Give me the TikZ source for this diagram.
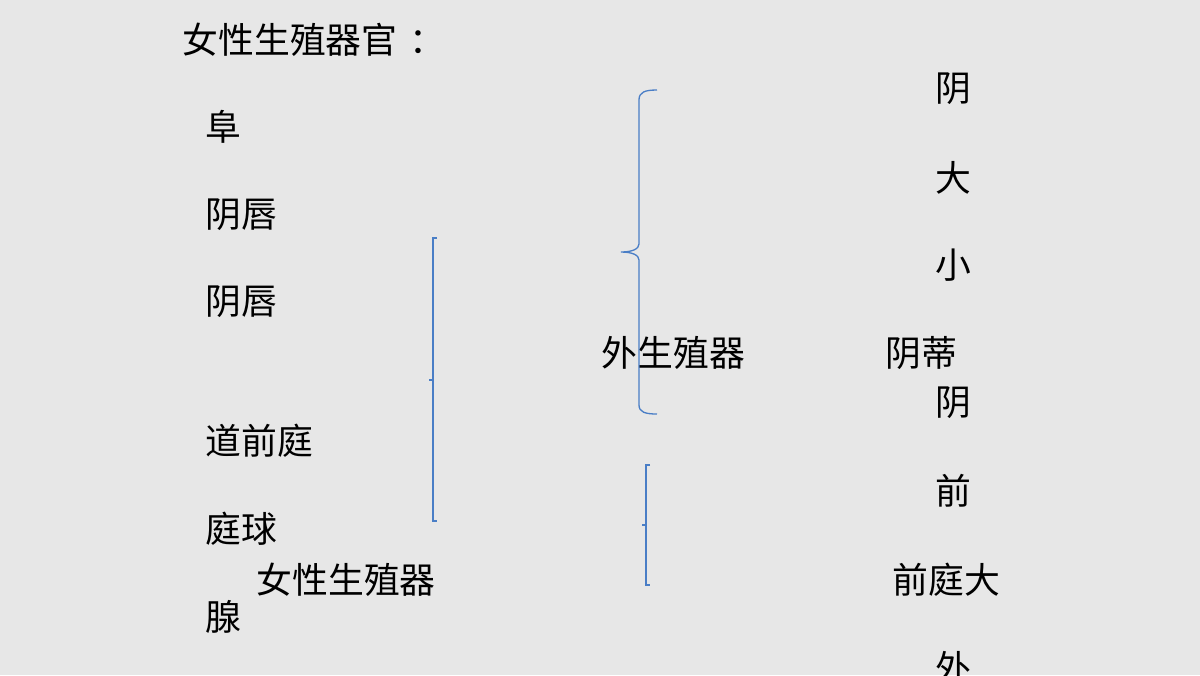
\documentclass[tikz,border=0pt]{standalone}
\usepackage{fontspec}
\setmainfont{Noto Sans CJK SC}
\definecolor{slidebg}{HTML}{E7E7E7}
\definecolor{bracketblue}{HTML}{4A7EC6}
\tikzset{
  lbl/.style={anchor=west,inner sep=0pt,text=black},
  brk/.style={draw=bracketblue,line width=0.5pt}
}
\begin{document}
\begin{tikzpicture}[x=0.013333cm,y=-0.013333cm,font=\fontsize{13.6}{16}\selectfont]

\fill[slidebg] (0,0) rectangle (1200,675);
\useasboundingbox (0,0) rectangle (1200,675);

% left column
\node[lbl] (title) at (182,40) {女性生殖器官\hspace{0.33em}：};
\node[lbl] (fu) at (205,127) {阜};
\node[lbl] (chunA) at (205,215) {阴唇};
\node[lbl] (chunB) at (205,302) {阴唇};
\node[lbl] (qianting) at (205,441) {道前庭};
\node[lbl] (tingqiu) at (205,529) {庭球};
\node[lbl] (nvxing) at (256,580) {女性生殖器};
\node[lbl] (xian) at (205,617) {腺};

% middle
\node[lbl] (waisheng) at (601,353) {外生殖器};

% right column
\node[lbl] (yinA) at (935,89) {阴};
\node[lbl] (da) at (935,178) {大};
\node[lbl] (xiao) at (935,265) {小};
\node[lbl] (yindi) at (885,353) {阴蒂};
\node[lbl] (yinB) at (935,403) {阴};
\node[lbl] (qian) at (935,491) {前};
\node[lbl] (tingda) at (892,580) {前庭大};
\node[lbl] (wai) at (935,668) {外};

% brackets
\draw[brk] (437,238) -- (433,238) -- (433,521) -- (437,521);
\draw[brk] (433,380) -- (429,380);

\draw[brk] (657,90) .. controls (645,90) and (639,92) .. (639,100) -- (639,244)
  .. controls (639,249) and (632,252) .. (621,252)
  .. controls (632,252) and (639,255) .. (639,260) -- (639,405)
  .. controls (639,412) and (645,414) .. (657,414);

\draw[brk] (650,465) -- (646,465) -- (646,585) -- (650,585);
\draw[brk] (646,525) -- (642,525);

\end{tikzpicture}
\end{document}
